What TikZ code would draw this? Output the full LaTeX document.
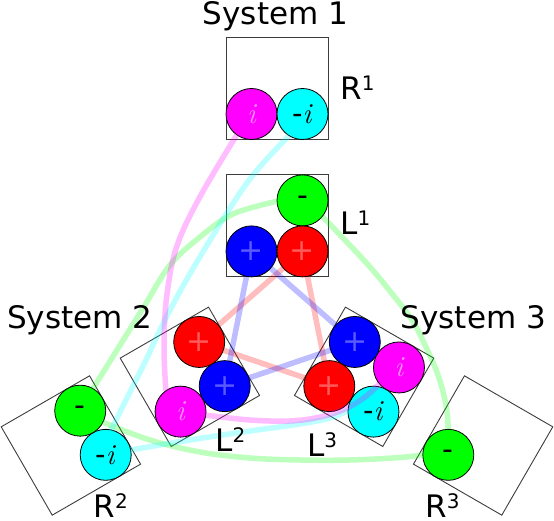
\documentclass[tikz,border=0pt]{standalone}
\usepackage{fontspec}
\newfontfamily\dv{DejaVu Sans}
\definecolor{cMag}{RGB}{255,0,255}
\definecolor{cCya}{RGB}{0,255,255}
\definecolor{cGre}{RGB}{0,255,0}
\definecolor{cBlu}{RGB}{0,0,255}
\definecolor{cRed}{RGB}{255,0,0}
\definecolor{tMag}{RGB}{255,140,255}
\definecolor{tBlu}{RGB}{90,90,255}
\definecolor{tRed}{RGB}{255,90,90}
\definecolor{boxgray}{RGB}{60,60,60}
\newcommand\supr[1]{\raisebox{9pt}{\fontsize{20}{20}\selectfont #1}}
\begin{document}
\begin{tikzpicture}[x=1pt,y=1pt,
  box/.style={draw=boxgray, line width=0.9pt, minimum size=102pt, inner sep=0pt, outer sep=0pt},
  ball/.style={circle, draw=black, line width=0.8pt, minimum size=51pt, inner sep=0pt, outer sep=0pt},
  magball/.style={ball, fill=cMag, text=tMag, font=\fontsize{29}{29}\selectfont\itshape},
  cyaball/.style={ball, fill=cCya, text=black, font=\fontsize{29}{29}\selectfont},
  greball/.style={ball, fill=cGre, text=black, font=\dv\fontsize{30}{30}\selectfont},
  bluball/.style={ball, fill=cBlu, text=tBlu, font=\dv\fontsize{30}{30}\selectfont},
  redball/.style={ball, fill=cRed, text=tRed, font=\dv\fontsize{30}{30}\selectfont},
  link/.style={line width=5.5pt, opacity=0.26},
  lbl/.style={font=\dv\fontsize{31}{31}\selectfont, inner sep=0pt, outer sep=0pt},
]
\useasboundingbox (0,0) rectangle (554,521);

% System 1
\node[box] (RB1) at (277,432.5) {};
\node[box] (LB1) at (277,295.1) {};
\node[magball] (mR1) at (251.5,407) {i};
\node[cyaball] (cR1) at (302.5,407) {{\dv -}\textit{i}};
\node[greball] (gL1) at (302.5,320.6) {-};
\node[bluball] (bL1) at (251.5,269.6) {+};
\node[redball] (rL1) at (302.5,269.6) {+};

% System 2
\begin{scope}[rotate around={120:(277,194.5)}]
\node[box, rotate=120] (RB2) at (277,432.5) {};
\node[box, rotate=120] (LB2) at (277,295.1) {};
\node[cyaball] (cR2) at (251.5,407) {{\dv -}\textit{i}};
\node[greball] (gR2) at (302.5,407) {-};
\node[magball] (mL2) at (251.5,320.6) {i};
\node[bluball] (bL2) at (251.5,269.6) {+};
\node[redball] (rL2) at (302.5,269.6) {+};
\end{scope}

% System 3
\begin{scope}[rotate around={240:(277,194.5)}]
\node[box, rotate=240] (RB3) at (277,432.5) {};
\node[box, rotate=240] (LB3) at (277,295.1) {};
\node[greball] (gR3) at (302.5,407) {-};
\node[magball] (mL3) at (251.5,320.6) {i};
\node[cyaball] (cL3) at (302.5,320.6) {{\dv -}\textit{i}};
\node[bluball] (bL3) at (251.5,269.6) {+};
\node[redball] (rL3) at (302.5,269.6) {+};
\end{scope}

% links
\draw[link, draw=cRed] (rL1) -- (rL2);
\draw[link, draw=cRed] (rL1) -- (rL3);
\draw[link, draw=cRed] (rL2) -- (rL3);
\draw[link, draw=cBlu] (bL1) -- (bL2);
\draw[link, draw=cBlu] (bL1) -- (bL3);
\draw[link, draw=cBlu] (bL2) -- (bL3);

\draw[link, draw=cGre] plot[smooth, tension=0.6] coordinates
  {(gL1.182) (233,307) (200,284) (170,256) (145,216) (122,179) (gR2.60)};
\draw[link, draw=cGre] plot[smooth, tension=0.6] coordinates
  {(gL1.-39) (366.7,257.7) (393,226) (412,201) (425,176) (438,146) (446,116) (gR3.90)};
\draw[link, draw=cGre] plot[smooth, tension=0.6] coordinates
  {(gR2.-27) (150,81) (200,69) (250,63) (300,61) (350,61) (400,63.5) (gR3.180)};

\draw[link, draw=cCya] plot[smooth, tension=0.6] coordinates
  {(cR1.238) (265,360) (246.7,337.7) (226.7,307.7) (200,264.3) (178,226) (160,191) (145,159) (130,129) (cR2.78)};
\draw[link, draw=cCya] plot[smooth, tension=0.6] coordinates
  {(cR2.11) (190,81) (250,90) (300,97) (330,103) (cL3.178)};

\draw[link, draw=cMag] plot[smooth, tension=0.6] coordinates
  {(mR1.235) (200,324.3) (176.7,274.3) (166.7,224.3) (164,174.3) (mL2.125)};
\draw[link, draw=cMag] plot[smooth, tension=0.6] coordinates
  {(mL2.-8) (250,101) (290,100) (320,104) (345,112) (365,124) (mL3.220)};

% labels
\node[lbl, anchor=base] (s1) at (275.5,496) {System 1};
\node[lbl, anchor=base] (s2) at (79.7,192.7) {System 2};
\node[lbl, anchor=base] (s3) at (473.3,192.7) {System 3};
\node[lbl, anchor=base west] (lr1) at (340.3,421.7) {R\supr{1}};
\node[lbl, anchor=base west] (ll1) at (340.3,286) {L\supr{1}};
\node[lbl, anchor=base west] (ll2) at (215.3,69.3) {L\supr{2}};
\node[lbl, anchor=base west] (ll3) at (307,64.3) {L\supr{3}};
\node[lbl, anchor=base west] (lr2) at (93.7,3) {R\supr{2}};
\node[lbl, anchor=base west] (lr3) at (425.3,3) {R\supr{3}};
\end{tikzpicture}
\end{document}
